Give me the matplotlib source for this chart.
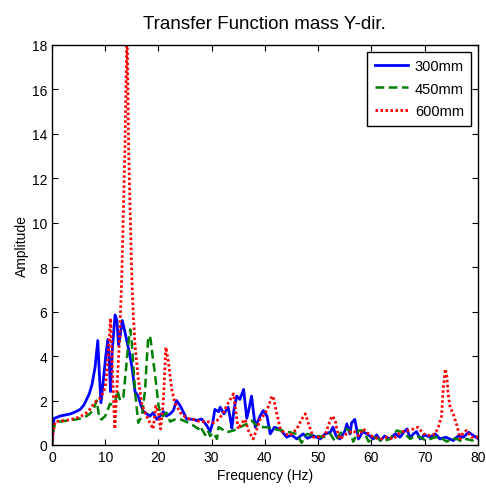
import numpy as np
import matplotlib
matplotlib.use("Agg")
import matplotlib.pyplot as plt

plt.rcParams["font.family"] = ["Liberation Sans", "DejaVu Sans"]

# transfer function amplitude vs frequency, one curve per mass height
f_300 = [0, 0.2, 0.4, 1.0, 1.5, 2.5, 3.5, 4.5, 5.3, 6.0, 6.5, 7.0, 7.5, 8.1, 8.6, 8.9, 9.2, 9.6,
         10.1, 10.5, 10.8, 11.0, 11.3, 11.85, 12.2, 12.5, 12.8, 13.2, 13.6, 14.0, 14.5, 15.0, 15.4,
         15.6, 16.2, 16.7, 17.2, 18.4, 19.0, 19.7, 20.3, 20.9, 21.5, 22.2, 22.8, 23.4, 24.0, 24.4,
         25.3, 26.6, 27.2, 28.1, 29.1, 29.7, 30.2, 30.6, 31.3, 31.6, 32.3, 33.1, 33.5, 33.8, 34.2,
         34.7, 35.3, 36.0, 36.6, 37.0, 37.5, 38.2, 39.1, 39.7, 40.4, 41.0, 41.8, 42.9, 44.1, 45.0,
         46.0, 47.2, 48.0, 49.1, 50.4, 51.3, 52.3, 52.8, 53.4, 54.1, 55.0, 55.4, 56.0, 56.3, 56.9,
         57.6, 58.4, 59.2, 60.4, 61.0, 61.7, 62.5, 63.5, 64.5, 65.4, 66.0, 66.7, 67.3, 67.9, 68.5,
         69.2, 70.0, 71.1, 72.0, 72.9, 74.0, 75.4, 76.3, 77.3, 78.3, 79.2, 80.0]
a_300 = [0, 0.8, 1.2, 1.25, 1.3, 1.35, 1.4, 1.5, 1.6, 1.8, 2.05, 2.3, 2.7, 3.5, 4.7, 3.2, 1.9, 2.8,
         4.0, 4.75, 3.5, 2.4, 4.2, 5.85, 5.6, 4.5, 4.9, 5.6, 5.2, 4.75, 4.2, 3.55, 2.8,
         2.4, 2.2, 1.8, 1.5, 1.3, 1.45, 1.15, 1.3, 1.5, 1.3, 1.4, 1.55, 2.0, 1.8, 1.62,
         1.17, 1.15, 1.1, 1.17, 0.87, 0.6, 1.0, 1.6, 1.5, 1.7, 1.4, 1.7, 1.2, 0.75, 1.6,
         2.2, 2.05, 2.5, 1.2, 1.6, 2.2, 0.8, 1.3, 1.55, 1.3, 0.5, 0.8, 0.7, 0.35, 0.45,
         0.27, 0.5, 0.3, 0.42, 0.27, 0.5, 0.57, 0.8, 0.4, 0.27, 0.6, 0.95, 0.5, 1.0, 1.15,
         0.27, 0.6, 0.5, 0.27, 0.45, 0.2, 0.4, 0.27, 0.5, 0.35, 0.55, 0.72, 0.3, 0.5, 0.6,
         0.27, 0.45, 0.35, 0.5, 0.27, 0.35, 0.2, 0.4, 0.35, 0.57, 0.42, 0.3]

f_450 = [0, 0.3, 0.6, 1.5, 3.0, 4.5, 5.5, 6.5, 7.1, 7.8, 8.4, 8.9, 9.3, 10.0, 10.9, 11.5, 11.8, 12.3,
         12.8, 13.4, 13.9, 14.3, 14.7, 15.0, 15.2, 15.6, 16.2, 16.9, 17.5, 17.8, 18.1, 18.5, 18.9,
         19.4, 20.0, 20.3, 20.9, 21.5, 22.2, 23.1, 24.1, 24.7, 25.6, 26.6, 27.5, 27.8, 28.8, 29.3,
         29.7, 30.3, 31.0, 31.3, 31.9, 32.8, 34.1, 35.3, 36.6, 37.5, 38.5, 39.4, 40.4, 41.6, 43.2,
         44.7, 46.0, 46.9, 47.9, 49.4, 51.0, 52.3, 53.2, 54.1, 55.1, 56.0, 56.6, 57.6, 58.5, 59.5,
         60.4, 61.2, 62.0, 63.5, 64.8, 66.0, 67.3, 68.2, 69.2, 70.2, 71.1, 72.0, 72.9, 74.2, 75.2,
         76.1, 77.0, 77.9, 79.0, 79.8, 80.0]
a_450 = [0, 0.7, 1.0, 1.05, 1.1, 1.15, 1.2, 1.3, 1.4, 1.6, 2.0, 1.2, 1.15, 1.3, 1.85, 1.8, 1.85, 2.45,
         2.0, 2.15, 3.4, 4.5, 5.2, 4.6, 3.9, 2.4, 1.0, 1.3, 2.5, 3.8, 4.9, 4.8, 4.0,
         3.1, 1.8, 1.45, 1.3, 1.45, 1.05, 1.15, 1.15, 1.1, 1.0, 0.87, 0.72, 0.85, 0.45, 0.65,
         0.4, 0.55, 0.27, 0.8, 0.72, 0.57, 0.65, 0.8, 0.95, 1.1, 0.87, 0.8, 0.8, 0.72, 0.65,
         0.57, 0.5, 0.1, 0.5, 0.42, 0.35, 0.5, 0.15, 0.5, 0.72, 0.65, 0.15, 0.65, 0.65, 0.15,
         0.35, 0.3, 0.15, 0.27, 0.65, 0.57, 0.27, 0.4, 0.35, 0.2, 0.27, 0.35, 0.35, 0.15, 0.3,
         0.27, 0.15, 0.27, 0.2, 0.35, 0.4]

f_600 = [0, 0.3, 0.6, 1.5, 3.0, 4.5, 5.5, 6.5, 7.1, 7.7, 8.4, 9.0, 9.5, 10.0, 10.4, 10.6, 11.0, 11.2,
         11.4, 11.8, 12.3, 12.7, 13.1, 13.7, 14.1, 14.4, 15.0, 15.3, 15.6, 16.2, 16.9, 17.8, 18.4,
         19.0, 19.5, 20.0, 20.4, 20.9, 21.4, 21.9, 22.5, 23.1, 24.1, 25.3, 26.6, 27.8, 29.1, 30.3,
         31.3, 32.2, 32.8, 33.5, 34.1, 34.4, 35.0, 35.7, 36.3, 36.9, 37.8, 38.5, 39.1, 40.0, 40.7,
         41.3, 41.6, 42.2, 42.9, 43.8, 44.7, 46.0, 46.9, 47.6, 48.2, 49.1, 50.4, 51.3, 51.9, 52.6,
         53.2, 53.5, 54.1, 55.4, 56.6, 57.6, 58.5, 59.5, 60.4, 61.7, 62.9, 64.2, 65.4, 66.7, 67.9,
         68.8, 69.8, 71.1, 72.0, 72.6, 73.2, 73.5, 73.9, 74.2, 74.4, 74.8, 75.4, 76.1, 76.7, 77.3,
         77.9, 78.8, 79.8, 80.0]
a_600 = [0, 0.7, 1.05, 1.08, 1.12, 1.2, 1.3, 1.45, 1.6, 1.8, 2.0, 2.1, 2.3, 2.6, 3.5, 4.2, 5.7, 4.5,
         3.0, 0.72, 3.0, 4.8, 7.5, 13.3, 19.0, 13.3, 7.5, 5.7, 4.5, 3.0, 1.8, 1.3, 1.0,
         0.72, 1.75, 1.45, 0.72, 1.9, 4.4, 3.7, 2.5, 1.9, 1.45, 1.2, 1.15, 1.05, 1.05, 1.0,
         1.15, 1.45, 1.75, 2.05, 2.3, 1.75, 0.72, 1.0, 1.15, 0.65, 0.27, 0.72, 1.15, 1.4, 1.75,
         2.2, 2.15, 1.45, 0.72, 0.5, 0.42, 0.72, 1.15, 1.4, 0.95, 0.35, 0.35, 0.42, 0.87, 1.3,
         1.15, 0.72, 0.27, 0.5, 0.65, 0.42, 0.72, 0.5, 0.35, 0.27, 0.35, 0.27, 0.57, 0.65, 0.72,
         0.8, 0.5, 0.42, 0.5, 0.8, 1.3, 2.5, 3.42, 3.1, 2.37, 1.7, 1.4, 0.87, 0.27, 0.57,
         0.65, 0.35, 0.35, 0.4]

fig = plt.figure(figsize=(4.86, 4.89), dpi=100)
ax = fig.add_axes([0.107, 0.088, 0.876, 0.818])

ax.plot(f_300, a_300, color="#0000ff", linestyle="-", linewidth=2.0, label="300mm")
ax.plot(f_450, a_450, color="#008000", linestyle=(0, (3.5, 1.8)), linewidth=1.8, label="450mm")
ax.plot(f_600, a_600, color="#ff0000", linestyle=(0, (0.9, 0.9)), linewidth=2.0, label="600mm")

ax.set_xlim(0, 80)
ax.set_ylim(0, 18)
ax.set_xticks(np.arange(0, 81, 10))
ax.set_yticks(np.arange(0, 19, 2))
ax.tick_params(direction="in", top=True, right=True, length=4, labelsize=10)
for s in ax.spines.values():
    s.set_linewidth(1.0)

ax.set_title("Transfer Function mass Y-dir.", fontsize=13.5, pad=12)
ax.set_xlabel("Frequency (Hz)", fontsize=10, labelpad=3)
ax.set_ylabel("Amplitude", fontsize=10, labelpad=2)

leg = ax.legend(loc="upper right", fontsize=10.5, fancybox=False, edgecolor="black",
                framealpha=1, handlelength=2.3, handletextpad=0.45, borderaxespad=0.45,
                labelspacing=0.6, borderpad=0.5)
leg.get_frame().set_linewidth(1.0)

fig.savefig("out.png", dpi=100)
